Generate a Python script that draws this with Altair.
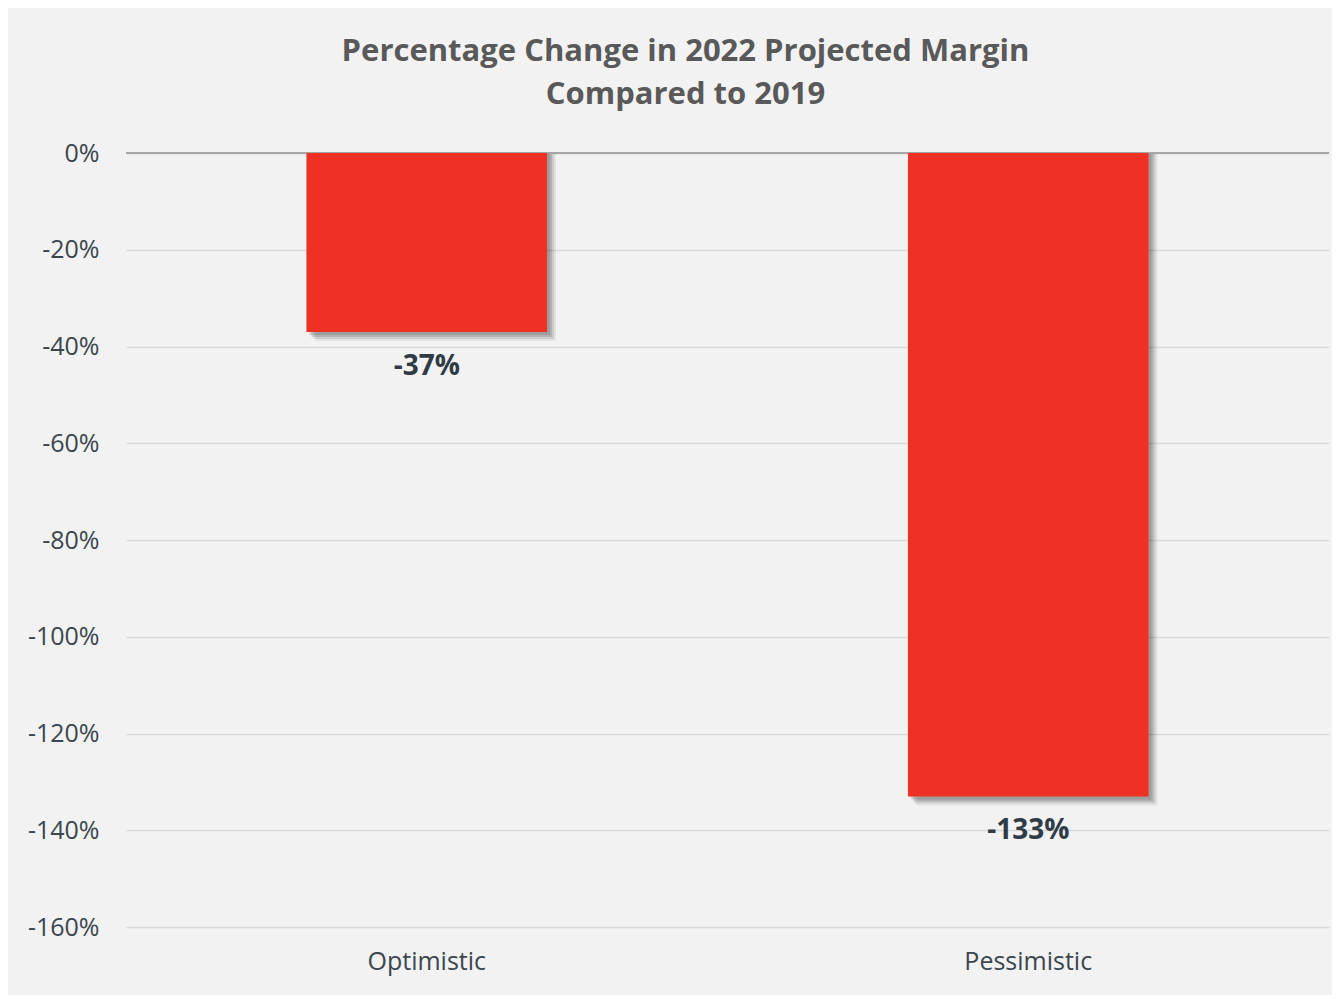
import altair as alt
import pandas as pd

categories = ["Optimistic", "Pessimistic"]
values = [-37, -133]
labels = ["-37%", "-133%"]
y_ticks = [0, -20, -40, -60, -80, -100, -120, -140, -160]

df = pd.DataFrame({"scenario": categories, "value": values, "label": labels})

FONT = "Open Sans"
xenc = alt.X("scenario:N", sort=categories,
             scale=alt.Scale(paddingInner=0.6, paddingOuter=0.3),
             axis=alt.Axis(title=None, labelAngle=0, ticks=False, domain=False,
                           labelFont=FONT, labelFontSize=25, labelColor="#3b464e",
                           labelPadding=22, grid=False))
yscale = alt.Scale(domain=[-160, 0], nice=False, zero=False)

base = alt.Chart(df)

bars_y = alt.Y("value:Q", scale=yscale,
               axis=alt.Axis(title=None, values=y_ticks, labelExpr="datum.value + '%'",
                             ticks=False, domain=False, grid=True, gridColor="#d9d9d9",
                             gridWidth=1.5, labelFont=FONT, labelFontSize=25,
                             labelColor="#3b464e", labelPadding=27))

shadows = []
for off, op in [(3, 0.12), (5, 0.12), (7, 0.10), (9, 0.06)]:
    shadows.append(
        base.mark_bar(color="#000000", opacity=op, xOffset=off, yOffset=off)
        .encode(x=xenc, y=bars_y, y2=alt.datum(0))
    )

bars = base.mark_bar(color="#ee3124").encode(x=xenc, y=bars_y, y2=alt.datum(0))

zero = alt.Chart(pd.DataFrame({"z": [0]})).mark_rule(color="#a6a6a6", strokeWidth=2).encode(
    y=alt.Y("z:Q", scale=yscale))

text = base.mark_text(font=FONT, fontSize=28, fontWeight="bold", color="#2f3c45",
                      baseline="middle", dy=35).encode(x=xenc, y=alt.Y("value:Q", scale=yscale),
                                                      text="label:N")

chart = alt.layer(*shadows, zero, bars, text).properties(
    width=1203, height=774,
    autosize=alt.AutoSizeParams(type="none"),
    padding={"left": 118, "top": 145, "right": 3, "bottom": 68},
    background="#f2f2f2",
    title=alt.TitleParams(
        text=["Percentage Change in 2022 Projected Margin", "Compared to 2019"],
        font=FONT, fontSize=31, fontWeight="bold", color="#595959",
        anchor="middle", dx=-42, offset=30, lineHeight=43),
).configure_view(stroke=None)

chart.save("out.html", embed_options={"renderer": "svg", "actions": False})
